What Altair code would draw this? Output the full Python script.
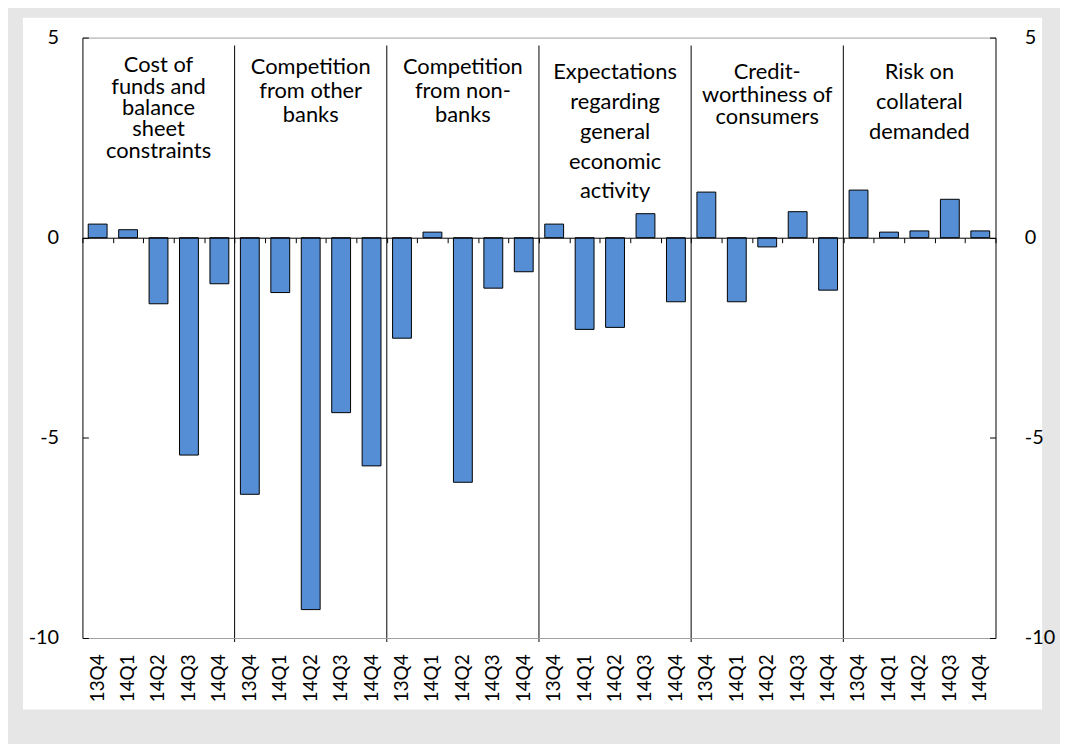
import altair as alt
import pandas as pd

# ---- data ----
group_titles = [
    "Cost of\nfunds and\nbalance\nsheet\nconstraints",
    "Competition\nfrom other\nbanks",
    "Competition\nfrom non-\nbanks",
    "Expectations\nregarding\ngeneral\neconomic\nactivity",
    "Credit-\nworthiness of\nconsumers",
    "Risk on\ncollateral\ndemanded",
]
quarters = ["13Q4", "14Q1", "14Q2", "14Q3", "14Q4"]
cost_of_funds = [0.34, 0.20, -1.65, -5.43, -1.15]
competition_banks = [-6.41, -1.37, -9.29, -4.37, -5.70]
competition_nonbanks = [-2.51, 0.14, -6.11, -1.26, -0.85]
expectations = [0.34, -2.29, -2.24, 0.60, -1.60]
creditworthiness = [1.14, -1.60, -0.23, 0.65, -1.31]
collateral_risk = [1.19, 0.14, 0.17, 0.96, 0.17]
y_ticks = [5, 0, -5, -10]

series = [cost_of_funds, competition_banks, competition_nonbanks,
          expectations, creditworthiness, collateral_risk]

keys, vals = [], []
for gi, s in enumerate(series):
    for q, v in zip(quarters, s):
        keys.append(f"{gi}|{q}")
        vals.append(v)
bars_df = pd.DataFrame({"key": keys, "value": vals})

# ---- styling ----
W, H = 920, 605
FONT = "Lato"
x_scale = alt.Scale(domain=keys, paddingInner=0, paddingOuter=0)
y_scale = alt.Scale(domain=[-10, 5], nice=False, zero=False)
zero_offset = -H * 10 / 15
hyphen_label = "datum.value + ''"

panel = alt.Chart(pd.DataFrame({"p": [0]})).mark_rect(color="white").encode(
    x=alt.value(-60), x2=alt.value(967), y=alt.value(-20), y2=alt.value(677)
)

sep_df = pd.DataFrame({"key": [keys[gi * 5] for gi in range(1, 6)]})
seps = alt.Chart(sep_df).mark_rule(color="black", strokeWidth=1).encode(
    x=alt.X("key:N", scale=x_scale, bandPosition=0, axis=None),
    y=alt.value(8), y2=alt.value(609),
)

bars = alt.Chart(bars_df).mark_bar(size=19, color="#558ed5", stroke="black", strokeWidth=1).encode(
    x=alt.X("key:N", scale=x_scale, title=None,
            axis=alt.Axis(orient="bottom", labelExpr="split(datum.label, '|')[1]",
                          labelAngle=-90, labelFont=FONT, labelFontSize=19,
                          labelColor="black", labelPadding=16, ticks=False, tickSize=0,
                          domain=True, domainColor="#a0a0a0", grid=False, zindex=1)),
    y=alt.Y("value:Q", scale=y_scale, title=None,
            axis=alt.Axis(orient="left", values=y_ticks, labelExpr=hyphen_label,
                          labelFont=FONT, labelFontSize=20,
                          labelColor="black", labelPadding=24, ticks=False, tickSize=0,
                          domainColor="black", grid=False, zindex=1)),
)


def title_layer(indices, y_px, lh):
    df = pd.DataFrame({"key": [keys[gi * 5 + 2] for gi in indices],
                       "title": [group_titles[gi] for gi in indices]})
    return alt.Chart(df).mark_text(font=FONT, fontSize=22, lineBreak="\n", lineHeight=lh,
                                   align="center", baseline="top", color="black").encode(
        x=alt.X("key:N", scale=x_scale, axis=None),
        y=alt.value(y_px),
        text="title:N",
    )


t1 = title_layer([0], 18, 21.5)
t2 = title_layer([1, 2], 20, 24)
t3 = title_layer([4], 25, 22.5)
t4 = title_layer([3, 5], 25, 30)

ghost1 = alt.Chart(bars_df).mark_point(opacity=0).encode(
    x=alt.X("key:N", scale=x_scale, title=None,
            axis=alt.Axis(orient="top", labels=False, ticks=False, domainColor="#a0a0a0",
                          grid=False, zindex=1)),
    y=alt.Y("value:Q", scale=y_scale, title=None,
            axis=alt.Axis(orient="right", values=y_ticks, labelExpr=hyphen_label,
                          labelFont=FONT, labelFontSize=20,
                          labelColor="black", labelPadding=29, ticks=False, tickSize=0,
                          domainColor="black", grid=False, zindex=1)),
)
ghost2 = alt.Chart(bars_df).mark_point(opacity=0).encode(
    x=alt.X("key:N", scale=x_scale, title=None,
            axis=alt.Axis(orient="bottom", offset=zero_offset, labels=False, ticks=True,
                          tickSize=5, tickColor="black", tickBand="extent",
                          domainColor="black", grid=False, zindex=1)),
    y=alt.Y("value:Q", scale=y_scale, title=None,
            axis=alt.Axis(orient="right", offset=-W, values=y_ticks, labels=False,
                          domain=False, ticks=True, tickSize=6, tickColor="black",
                          grid=False, zindex=1)),
)
ghost3 = alt.Chart(bars_df).mark_point(opacity=0).encode(
    x=alt.X("key:N", scale=x_scale, axis=None),
    y=alt.Y("value:Q", scale=y_scale, title=None,
            axis=alt.Axis(orient="left", offset=-W, values=y_ticks, labels=False,
                          domain=False, ticks=True, tickSize=6, tickColor="black",
                          grid=False, zindex=1)),
)

chart = alt.layer(panel, seps, bars, t1, t2, t3, t4, ghost1, ghost2, ghost3).resolve_axis(
    x="independent", y="independent"
).properties(
    width=W, height=H, background="#e6e6e6",
    padding={"left": 75, "top": 27, "right": 65, "bottom": 104},
    autosize=alt.AutoSizeParams(type="none"),
).configure_view(stroke=None)

chart.save("out.html", embed_options={"renderer": "svg", "actions": False})
